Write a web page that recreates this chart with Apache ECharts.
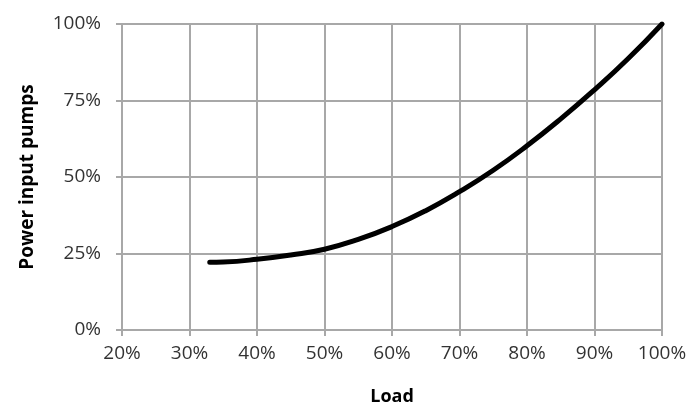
<!DOCTYPE html>
<html>
<head>
<meta charset="utf-8">
<script src="https://cdn.jsdelivr.net/npm/echarts@6/dist/echarts.min.js"></script>
<style>html,body{margin:0;padding:0;background:#fff}#c{width:689px;height:404px}</style>
</head>
<body>
<div id="c"></div>
<script>
var loadValues = [33, 35, 40, 45, 50, 55, 60, 65, 70, 75, 80, 85, 90, 95, 100];
var powerValues = [22.1, 22.2, 23.1, 24.5, 26.4, 29.6, 33.8, 39, 45.2, 52.2, 60.2, 69, 78.5, 88.7, 100];
var xTicks = {min: 20, max: 100, step: 10};
var yTicks = {min: 0, max: 100, step: 25};
var xTitle = 'Load';
var yTitle = 'Power input pumps';

var data = loadValues.map(function (x, i) { return [x, powerValues[i]]; });
var gridColor = '#a8a8a8';
var labelStyle = {color: '#333', fontFamily: 'Open Sans', fontSize: 19};
var chart = echarts.init(document.getElementById('c'), null, {renderer: 'canvas'});
chart.setOption({
  animation: false,
  grid: {left: 122, right: 27, top: 24, bottom: 74, outerBoundsMode: 'none', containLabel: false},
  xAxis: {
    type: 'value', min: xTicks.min, max: xTicks.max, interval: xTicks.step,
    name: xTitle, nameLocation: 'middle', nameGap: 58,
    nameTextStyle: {color: '#000', fontFamily: 'Open Sans', fontWeight: 'bold', fontSize: 18},
    axisLine: {show: true, lineStyle: {color: gridColor, width: 2}},
    axisTick: {show: true, length: 6, lineStyle: {color: gridColor, width: 2}},
    axisLabel: Object.assign({formatter: '{value}%', margin: 14}, labelStyle),
    splitLine: {show: true, lineStyle: {color: gridColor, width: 2}}
  },
  yAxis: {
    type: 'value', min: yTicks.min, max: yTicks.max, interval: yTicks.step,
    name: yTitle, nameLocation: 'middle', nameGap: 85, nameRotate: 90,
    nameTextStyle: {color: '#000', fontFamily: 'Open Sans', fontWeight: 'bold', fontSize: 19},
    axisLine: {show: true, lineStyle: {color: gridColor, width: 2}},
    axisTick: {show: true, length: 6, lineStyle: {color: gridColor, width: 2}},
    axisLabel: Object.assign({formatter: '{value}%', margin: 21}, labelStyle),
    splitLine: {show: true, lineStyle: {color: gridColor, width: 2}}
  },
  series: [{
    type: 'line', data: data, smooth: true, showSymbol: false,
    lineStyle: {color: '#000', width: 5, cap: 'round'}
  }]
});
</script>
</body>
</html>
